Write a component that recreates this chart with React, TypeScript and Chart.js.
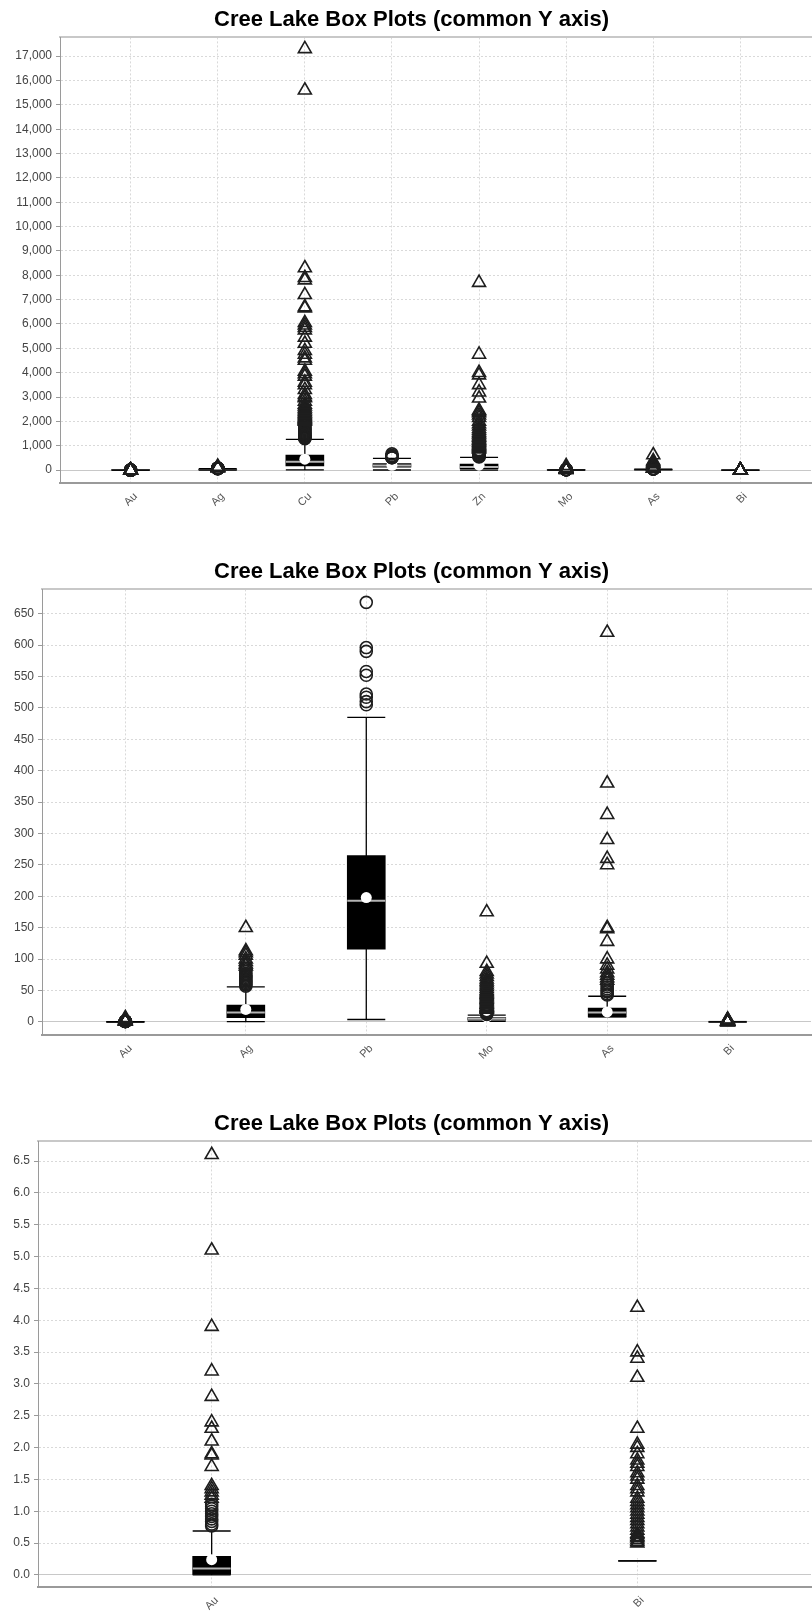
import React, { useEffect, useRef } from 'react';
import { Chart, registerables } from 'chart.js';

Chart.register(...registerables);

// ---------------- DATA ----------------
const TITLE = 'Cree Lake Box Plots (common Y axis)';

const ELEMENTS = ['Au', 'Ag', 'Cu', 'Pb', 'Zn', 'Mo', 'As', 'Bi'];

// box statistics per element (same order as ELEMENTS)
const Q1 = [0.0, 7, 170, 116, 50, 3, 8, 0.22];
const MEDIAN = [0.1, 15, 340, 193, 130, 5, 15, 0.22];
const Q3 = [0.29, 27, 615, 265, 250, 7, 22, 0.22];
const MEAN = [0.24, 20, 450, 198, 200, 8, 16, 0.35];
const WHISKER_LOW = [0.0, 0.5, 5, 4, 2, 1, 8, 0.22];
const WHISKER_HIGH = [0.69, 56, 1260, 485, 520, 11, 41, 0.22];

// outliers (circles) and far-out values (triangles)
const OUT_AU = [0.77, 0.8, 0.84, 0.88, 0.92, 0.96, 1.0, 1.04, 1.08, 1.11];
const FAR_AU = [1.2, 1.25, 1.3, 1.35, 1.4, 1.7, 1.88, 1.9, 2.1, 2.3, 2.4, 2.8, 3.2, 3.9, 5.1, 6.6];

const OUT_AG = [57, 59, 61, 63, 65, 67, 69, 71, 73, 75, 77, 80, 83, 86];
const FAR_AG = [89, 92, 96, 100, 106, 110, 113, 150];

const OUT_CU = [1290, 1310, 1330, 1350, 1380, 1400, 1430, 1460, 1490, 1520, 1550, 1590, 1630, 1670, 1710, 1760, 1810, 1860, 1910, 1960];
const FAR_CU = [2000, 2040, 2080, 2120, 2170, 2220, 2280, 2340, 2400, 2470, 2540, 2620, 2700, 2820, 2960, 3000, 3100, 3300, 3500, 3600, 3850, 3950, 4050, 4500, 4600, 4750, 4900, 5200, 5450, 5750, 5850, 5950, 6050, 6650, 6700, 7200, 7800, 7900, 8300, 15600, 17300];

const OUT_PB = [505, 510, 517, 522, 552, 558, 590, 596, 668];
const FAR_PB: number[] = [];

const OUT_ZN = [540, 560, 580, 600, 630, 660, 690, 720, 750, 780, 810, 840];
const FAR_ZN = [860, 900, 940, 980, 1020, 1070, 1120, 1170, 1220, 1280, 1340, 1400, 1470, 1540, 1620, 1700, 1800, 1900, 2000, 2150, 2250, 2350, 2400, 2450, 2950, 3200, 3500, 3900, 4000, 4750, 7700];

const OUT_MO = [12, 13, 14, 15, 16, 17, 18];
const FAR_MO = [20, 21, 22, 23, 24, 25, 27, 28, 30, 32, 34, 36, 38, 40, 42, 44, 46, 48, 50, 53, 56, 59, 62, 65, 68, 72, 76, 80, 93, 175];

const OUT_AS = [43, 45, 48, 50, 53, 56, 59, 62];
const FAR_AS = [66, 70, 74, 78, 84, 90, 100, 128, 148, 150, 250, 260, 290, 330, 380, 620];

const OUT_BI: number[] = [];
const FAR_BI = [0.5, 0.52, 0.55, 0.58, 0.6, 0.63, 0.65, 0.7, 0.75, 0.8, 0.85, 0.9, 0.95, 1.0, 1.05, 1.1, 1.15, 1.2, 1.3, 1.35, 1.4, 1.5, 1.55, 1.6, 1.7, 1.75, 1.8, 1.9, 2.0, 2.05, 2.3, 3.1, 3.4, 3.5, 4.2];

const OUTLIERS = [OUT_AU, OUT_AG, OUT_CU, OUT_PB, OUT_ZN, OUT_MO, OUT_AS, OUT_BI];
const FAROUTS = [FAR_AU, FAR_AG, FAR_CU, FAR_PB, FAR_ZN, FAR_MO, FAR_AS, FAR_BI];

// categories shown in each panel
const CATS_1 = ['Au', 'Ag', 'Cu', 'Pb', 'Zn', 'Mo', 'As', 'Bi'];
const CATS_2 = ['Au', 'Ag', 'Pb', 'Mo', 'As', 'Bi'];
const CATS_3 = ['Au', 'Bi'];

// y tick values per panel
const Y_TICKS_1 = [0, 1000, 2000, 3000, 4000, 5000, 6000, 7000, 8000, 9000, 10000, 11000, 12000, 13000, 14000, 15000, 16000, 17000];
const Y_TICKS_2 = [0, 50, 100, 150, 200, 250, 300, 350, 400, 450, 500, 550, 600, 650];
const Y_TICKS_3 = [0, 0.5, 1, 1.5, 2, 2.5, 3, 3.5, 4, 4.5, 5, 5.5, 6, 6.5];

// ---------------- STYLE / LAYOUT ----------------
const FONT = "'Liberation Sans', Arial, Helvetica, sans-serif";
const CANVAS_W = 832;
const CANVAS_H = 552;
const BOX_W = 38;
const MARK_COLOR = '#1e1e1e';
const MARK_W = 1.6;

const SPECS = [
  { cats: CATS_1, yMin: -530, yMax: 17770, yTicks: Y_TICKS_1, axisW: 60, xPad: 0.811, fmt: (v: number) => v.toLocaleString('en-US') },
  { cats: CATS_2, yMin: -20.7, yMax: 688.6, yTicks: Y_TICKS_2, axisW: 42, xPad: 0.692, fmt: (v: number) => String(v) },
  { cats: CATS_3, yMin: -0.19, yMax: 6.81, yTicks: Y_TICKS_3, axisW: 38, xPad: 0.408, fmt: (v: number) => Number(v).toFixed(1) },
];

function buildConfig(spec: any): any {
  const cats: string[] = spec.cats;
  const farouts: any[] = [];
  const outliers: any[] = [];
  const means: any[] = [];
  const medians: any[] = [];
  const caps: any[] = [];
  const boxes: any[] = [];
  const whiskers: any[] = [];
  cats.forEach((c, i) => {
    const e = ELEMENTS.indexOf(c);
    FAROUTS[e].forEach((v) => farouts.push({ x: i, y: v }));
    OUTLIERS[e].forEach((v) => outliers.push({ x: i, y: v }));
    means.push({ x: i, y: MEAN[e] });
    medians.push({ x: i, y: MEDIAN[e] });
    caps.push({ x: i, y: WHISKER_LOW[e] });
    caps.push({ x: i, y: WHISKER_HIGH[e] });
    boxes.push({ x: i, y: [Q1[e], Q3[e]] });
    whiskers.push({ x: i, y: WHISKER_LOW[e] });
    whiskers.push({ x: i, y: WHISKER_HIGH[e] });
    whiskers.push({ x: i, y: null });
  });

  const n = cats.length;
  const tickFontY = { family: FONT, size: 12 };
  const tickFontX = { family: FONT, size: 11 };

  return {
    type: 'bar',
    data: {
      datasets: [
        {
          type: 'scatter', label: 'far out', data: farouts, xAxisID: 'x', yAxisID: 'y',
          pointStyle: 'triangle', pointRadius: 7.5, pointBorderWidth: MARK_W,
          pointBorderColor: MARK_COLOR, borderColor: MARK_COLOR,
          pointBackgroundColor: 'rgba(0,0,0,0)', backgroundColor: 'rgba(0,0,0,0)',
        },
        {
          type: 'scatter', label: 'outliers', data: outliers, xAxisID: 'x', yAxisID: 'y',
          pointStyle: 'circle', pointRadius: 6, pointBorderWidth: MARK_W,
          pointBorderColor: MARK_COLOR, borderColor: MARK_COLOR,
          pointBackgroundColor: 'rgba(0,0,0,0)', backgroundColor: 'rgba(0,0,0,0)',
        },
        {
          type: 'scatter', label: 'mean', data: means, xAxisID: 'x', yAxisID: 'y',
          pointStyle: 'circle', pointRadius: 5.5, pointBorderWidth: 0,
          pointBackgroundColor: '#ffffff', backgroundColor: '#ffffff', borderColor: '#ffffff',
        },
        {
          type: 'scatter', label: 'caps', data: caps, xAxisID: 'x', yAxisID: 'y',
          pointStyle: 'line', pointRadius: BOX_W / 2, pointBorderWidth: 1.3,
          pointBorderColor: '#000000', borderColor: '#000000',
        },
        {
          type: 'scatter', label: 'median', data: medians, xAxisID: 'x', yAxisID: 'y',
          pointStyle: 'line', pointRadius: BOX_W / 2, pointBorderWidth: 2,
          pointBorderColor: '#b4b4b4', borderColor: '#b4b4b4',
        },
        {
          type: 'bar', label: 'box', data: boxes, xAxisID: 'x', yAxisID: 'y',
          backgroundColor: '#000000', borderWidth: 0, barThickness: BOX_W, grouped: false,
        },
        {
          type: 'line', label: 'whiskers', data: whiskers, xAxisID: 'x', yAxisID: 'y',
          borderColor: '#000000', borderWidth: 1.3, pointRadius: 0, spanGaps: false,
          fill: false, tension: 0,
        },
      ],
    },
    options: {
      responsive: false,
      animation: false,
      devicePixelRatio: 1,
      events: [],
      layout: { padding: { left: 0, right: 9, top: 0, bottom: 0 } },
      plugins: {
        legend: { display: false },
        tooltip: { enabled: false },
        title: {
          display: true,
          text: TITLE,
          color: '#000000',
          font: { family: FONT, size: 22, weight: 'bold' },
          padding: { top: 7, bottom: 4 },
        },
      },
      scales: {
        x: {
          type: 'linear',
          position: 'bottom',
          min: -spec.xPad,
          max: n - 1 + spec.xPad,
          offset: false,
          afterBuildTicks: (s: any) => { s.ticks = cats.map((_c, i) => ({ value: i })); },
          afterFit: (s: any) => { s.height = 69; },
          grid: { color: '#d9d9d9', lineWidth: 1, drawTicks: false, offset: false },
          border: { display: true, color: '#9a9a9a', width: 2, dash: (ctx: any) => (ctx.tick ? [2, 2] : []) },
          ticks: {
            autoSkip: false,
            minRotation: 45,
            maxRotation: 45,
            padding: 7,
            labelOffset: 5,
            color: '#555555',
            font: tickFontX,
            callback: (v: any) => cats[Math.round(Number(v))] ?? '',
          },
        },
        xTop: {
          type: 'linear',
          position: 'top',
          display: true,
          afterFit: (s: any) => { s.height = 0; },
          grid: { display: false, drawTicks: false },
          ticks: { display: false },
          border: { display: true, color: '#c8c8c8', width: 2 },
        },
        y: {
          type: 'linear',
          min: spec.yMin,
          max: spec.yMax,
          afterBuildTicks: (s: any) => { s.ticks = spec.yTicks.map((v: number) => ({ value: v })); },
          afterFit: (s: any) => { s.width = spec.axisW; },
          grid: {
            color: (ctx: any) => (ctx.tick && ctx.tick.value === 0 ? '#c8c8c8' : '#d9d9d9'),
            lineWidth: 1,
            drawTicks: true,
            tickLength: 4,
            tickColor: '#9a9a9a',
          },
          border: {
            display: true,
            color: '#9a9a9a',
            width: 1,
            dash: (ctx: any) => (ctx.tick && ctx.tick.value !== 0 ? [2, 2] : []),
          },
          ticks: {
            padding: 4,
            color: '#444444',
            font: tickFontY,
            callback: (v: any) => spec.fmt(Number(v)),
          },
        },
      },
    },
  };
}

function BoxChart({ spec }: { spec: any }) {
  const ref = useRef<HTMLCanvasElement | null>(null);
  useEffect(() => {
    if (!ref.current) return;
    const chart = new Chart(ref.current, buildConfig(spec));
    return () => chart.destroy();
  }, [spec]);
  return (
    <canvas
      ref={ref}
      width={CANVAS_W}
      height={CANVAS_H}
      style={{ display: 'block', width: CANVAS_W, height: CANVAS_H }}
    />
  );
}

export default function App() {
  return (
    <div
      style={{
        position: 'absolute',
        left: 0,
        top: 0,
        width: 812,
        height: 1611,
        overflow: 'hidden',
        background: '#ffffff',
      }}
    >
      {SPECS.map((s, i) => (
        <BoxChart key={i} spec={s} />
      ))}
    </div>
  );
}
